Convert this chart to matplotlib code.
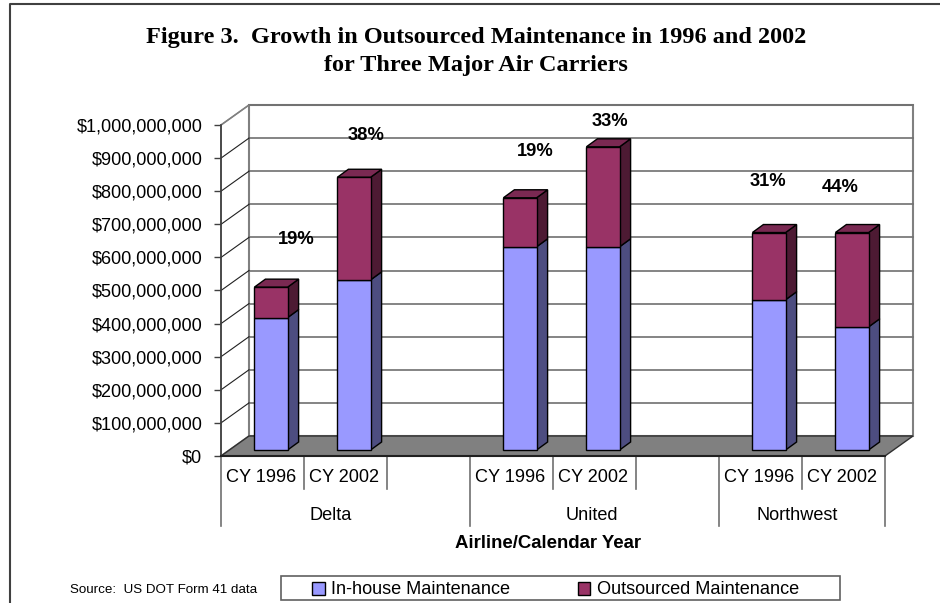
import matplotlib
matplotlib.use("Agg")
import matplotlib.pyplot as plt
from matplotlib.patches import Patch, Rectangle
from matplotlib.ticker import FuncFormatter

years = ["CY 1996", "CY 2002", "CY 1996", "CY 2002", "CY 1996", "CY 2002"]
slots = [0, 1, 3, 4, 6, 7]
airlines = ["Delta", "United", "Northwest"]
inhouse = [400e6, 514e6, 614e6, 614e6, 454e6, 372e6]
outsourced = [92e6, 310e6, 148e6, 302e6, 203e6, 285e6]
pct_labels = ["19%", "38%", "19%", "33%", "31%", "44%"]

W, H = 940, 603
plt.rcParams['font.family'] = ['Liberation Sans', 'DejaVu Sans']

fig = plt.figure(figsize=(W / 100, H / 100), dpi=100)
ax = fig.add_axes([221 / W, (H - 456) / H, 664 / W, 331 / H])
ax.set_xlim(0, 8)
ax.set_ylim(0, 1e9)
ax.patch.set_visible(False)

# depth of the fake 3d box and of the bars, in data units
per_px_x = 8 / 664
per_px_y = 1e9 / 331
wall_dx, wall_dy = 28 * per_px_x, 20 * per_px_y
lift_dx, lift_dy = 8.5 * per_px_x, 6 * per_px_y
bar_dx, bar_dy = 11 * per_px_x, 8 * per_px_y
bar_w = 0.4


def px(x, y):
    return x / W, 1 - y / H


# walls and floor
ax.fill([0, wall_dx, wall_dx, 0], [0, wall_dy, 1e9 + wall_dy, 1e9], fc='white', ec='#808080', lw=1.2, clip_on=False, zorder=1)
ax.fill([wall_dx, 8 + wall_dx, 8 + wall_dx, wall_dx],
        [wall_dy, wall_dy, 1e9 + wall_dy, 1e9 + wall_dy],
        fc='white', ec='#808080', lw=1.5, clip_on=False, zorder=1)
ax.fill([0, 8, 8 + wall_dx, wall_dx], [0, 0, wall_dy, wall_dy], fc='#808080', ec='#303030', lw=1, clip_on=False, zorder=2)

ticks = [i * 1e8 for i in range(11)]
for t in ticks[1:]:
    ax.plot([wall_dx, 8 + wall_dx], [t + wall_dy, t + wall_dy], color='#707070', lw=1.2, clip_on=False, zorder=2)
    ax.plot([0, wall_dx], [t, t + wall_dy], color='#808080' if t == 1e9 else '#202020', lw=0.8, clip_on=False, zorder=2)

# bars, front faces through ax.bar and the depth faces with fill
lefts = [s + 0.5 - bar_w / 2 + lift_dx for s in slots]
bottoms = [lift_dy] * len(slots)
tops = [a + lift_dy for a in inhouse]
ax.bar(lefts, inhouse, bar_w, bottom=bottoms, align='edge', color='#9999FF', edgecolor='black', lw=1, clip_on=False, zorder=5)
ax.bar(lefts, outsourced, bar_w, bottom=tops, align='edge', color='#993366', edgecolor='black', lw=1, clip_on=False, zorder=5)
for x0, a, b in zip(lefts, inhouse, outsourced):
    x1 = x0 + bar_w
    y1 = a + lift_dy
    y2 = a + b + lift_dy
    ax.fill([x1, x1 + bar_dx, x1 + bar_dx, x1], [lift_dy, lift_dy + bar_dy, y1 + bar_dy, y1],
            fc='#4D4D80', ec='black', lw=1, clip_on=False, zorder=4)
    ax.fill([x1, x1 + bar_dx, x1 + bar_dx, x1], [y1, y1 + bar_dy, y2 + bar_dy, y2],
            fc='#4D1A33', ec='black', lw=1, clip_on=False, zorder=4)
    ax.fill([x0, x0 + bar_dx, x1 + bar_dx, x1], [y2, y2 + bar_dy, y2 + bar_dy, y2],
            fc='#7A2952', ec='black', lw=1, clip_on=False, zorder=4)

# axes
for side in ['top', 'right', 'bottom']:
    ax.spines[side].set_visible(False)
ax.spines['left'].set_color('#404040')
ax.spines['left'].set_linewidth(1.2)
ax.set_zorder(2)
ax.set_xticks([])
ax.set_yticks(ticks)
ax.yaxis.set_major_formatter(FuncFormatter(lambda v, pos: "${:,.0f}".format(v)))
ax.tick_params(axis='y', length=5, width=1, color='#404040', pad=8.5, labelsize=13.1)
ax.plot([0, 8], [0, 0], color='#202020', lw=1.5, clip_on=False, zorder=6)

# two tier category axis below the floor
short = -33 * per_px_y
long = -70 * per_px_y
for s in range(9):
    bottom = long if s in (0, 3, 6, 8) else short
    ax.plot([s, s], [0, bottom], color='#707070', lw=1.2, clip_on=False, zorder=1)
for s, label in zip(slots, years):
    ax.text(s + 0.5 - 1.5 * per_px_x, -22 * per_px_y, label, ha='center', va='center', fontsize=13.1, color='black', clip_on=False)
for label, x in zip(airlines, [331, 592, 797]):
    ax.text((x - 221) * per_px_x, -59.5 * per_px_y, label, ha='center', va='center', fontsize=13.1, clip_on=False)
ax.text((548 - 221) * per_px_x, -88 * per_px_y, "Airline/Calendar Year", ha='center', va='center',
        fontsize=13.4, fontweight='bold', clip_on=False)

# percentage notes, free text boxes in the original
for label, (x, y) in zip(pct_labels, [(296, 239), (366, 135), (535, 151), (610, 121), (768, 182), (840, 188)]):
    fig.text(*px(x, y), label, ha='center', va='center', fontsize=13.2, fontweight='bold')

fig.text(*px(476, 38), "Figure 3.  Growth in Outsourced Maintenance in 1996 and 2002", ha='center', va='center',
         fontsize=17.5, fontweight='bold', family=['Liberation Serif', 'DejaVu Serif'])
fig.text(*px(476, 66), "for Three Major Air Carriers", ha='center', va='center',
         fontsize=17.5, fontweight='bold', family=['Liberation Serif', 'DejaVu Serif'])
fig.text(*px(70, 590), "Source:  US DOT Form 41 data", ha='left', va='center', fontsize=9.6)

# outer frame, cropped on the right and bottom
fig.add_artist(plt.Line2D([10 / W, 10 / W, 1], [0, 1 - 4 / H, 1 - 4 / H], color='#404040', lw=1.5))

# legend box
fig.add_artist(Rectangle(px(281, 600), 559 / W, 24 / H, fc='white', ec='#606060', lw=1.2))
handles = [Patch(fc='#9999FF', ec='black', label="In-house Maintenance"),
           Patch(fc='#993366', ec='black', label="Outsourced Maintenance")]
fig.legend(handles=handles, ncol=2, loc='center left', bbox_to_anchor=px(305, 590), frameon=False, fontsize=13.1,
           handlelength=0.7, handleheight=0.7, handletextpad=0.35, columnspacing=3.7, borderaxespad=0)

fig.savefig("out.png", dpi=100)
